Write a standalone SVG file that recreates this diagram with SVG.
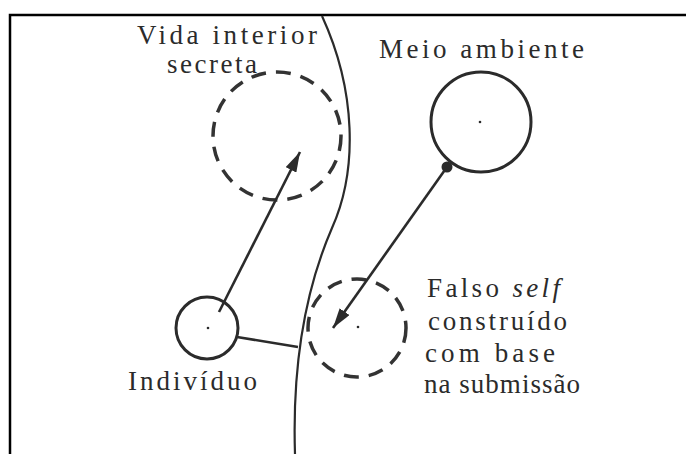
<svg xmlns="http://www.w3.org/2000/svg" width="686" height="454" viewBox="0 0 686 454">
<style>
.t{font-family:"Liberation Serif","Times New Roman",serif;font-size:27px;fill:#2b2b2b}
.solid{fill:none;stroke:#2b2b2b;stroke-width:3}
.dash{fill:none;stroke:#333;stroke-width:3.5;stroke-dasharray:15 10}
.ln{fill:none;stroke:#2b2b2b;stroke-width:2.6}
.dot{fill:#2b2b2b}
</style>
<defs>
<marker id="ah" markerUnits="userSpaceOnUse" markerWidth="22" markerHeight="12" refX="20" refY="6" orient="auto">
<path d="M0,0 L20,6 L0,12 z" fill="#2b2b2b"/>
</marker>
</defs>
<rect width="686" height="454" fill="#fff"/>
<path d="M10,454 V15 H686" fill="none" stroke="#000" stroke-width="2.5"/>
<g id="boundary">
<path class="ln" style="stroke-width:2.2" d="M322,16 C356,90 358,170 332,228 C306,288 292,360 295,454"/>
</g>
<g id="vida-interior">
<circle class="dash" cx="277" cy="136" r="64"/>
<text class="t" x="137" y="44" textLength="180" lengthAdjust="spacing">Vida interior</text>
<text class="t" x="167" y="73" textLength="90" lengthAdjust="spacing">secreta</text>
</g>
<g id="meio-ambiente">
<circle class="solid" cx="481" cy="122" r="50"/>
<circle class="dot" cx="480" cy="122" r="1.3"/>
<circle class="dot" cx="447" cy="167" r="5.5"/>
<text class="t" x="379" y="58" textLength="205" lengthAdjust="spacing">Meio ambiente</text>
</g>
<g id="falso-self">
<circle class="dash" cx="357" cy="328" r="49"/>
<circle class="dot" cx="358" cy="327" r="1.3"/>
<text class="t" x="427" y="297" textLength="133" lengthAdjust="spacing">Falso <tspan font-style="italic">self</tspan></text>
<text class="t" x="428" y="330" textLength="139" lengthAdjust="spacing">construído</text>
<text class="t" x="425" y="362" textLength="130" lengthAdjust="spacing">com base</text>
<text class="t" x="424" y="393" textLength="156" lengthAdjust="spacing">na submissão</text>
</g>
<g id="individuo">
<circle class="solid" cx="207" cy="328" r="31"/>
<circle class="dot" cx="208" cy="328" r="1.3"/>
<text class="t" x="128" y="390" textLength="129" lengthAdjust="spacing">Indivíduo</text>
</g>
<g id="connectors">
<line class="ln" x1="219" y1="312" x2="300" y2="152" marker-end="url(#ah)"/>
<line class="ln" x1="447" y1="167" x2="333" y2="328" marker-end="url(#ah)"/>
<line class="ln" x1="237" y1="337" x2="298" y2="347"/>
</g>
</svg>
